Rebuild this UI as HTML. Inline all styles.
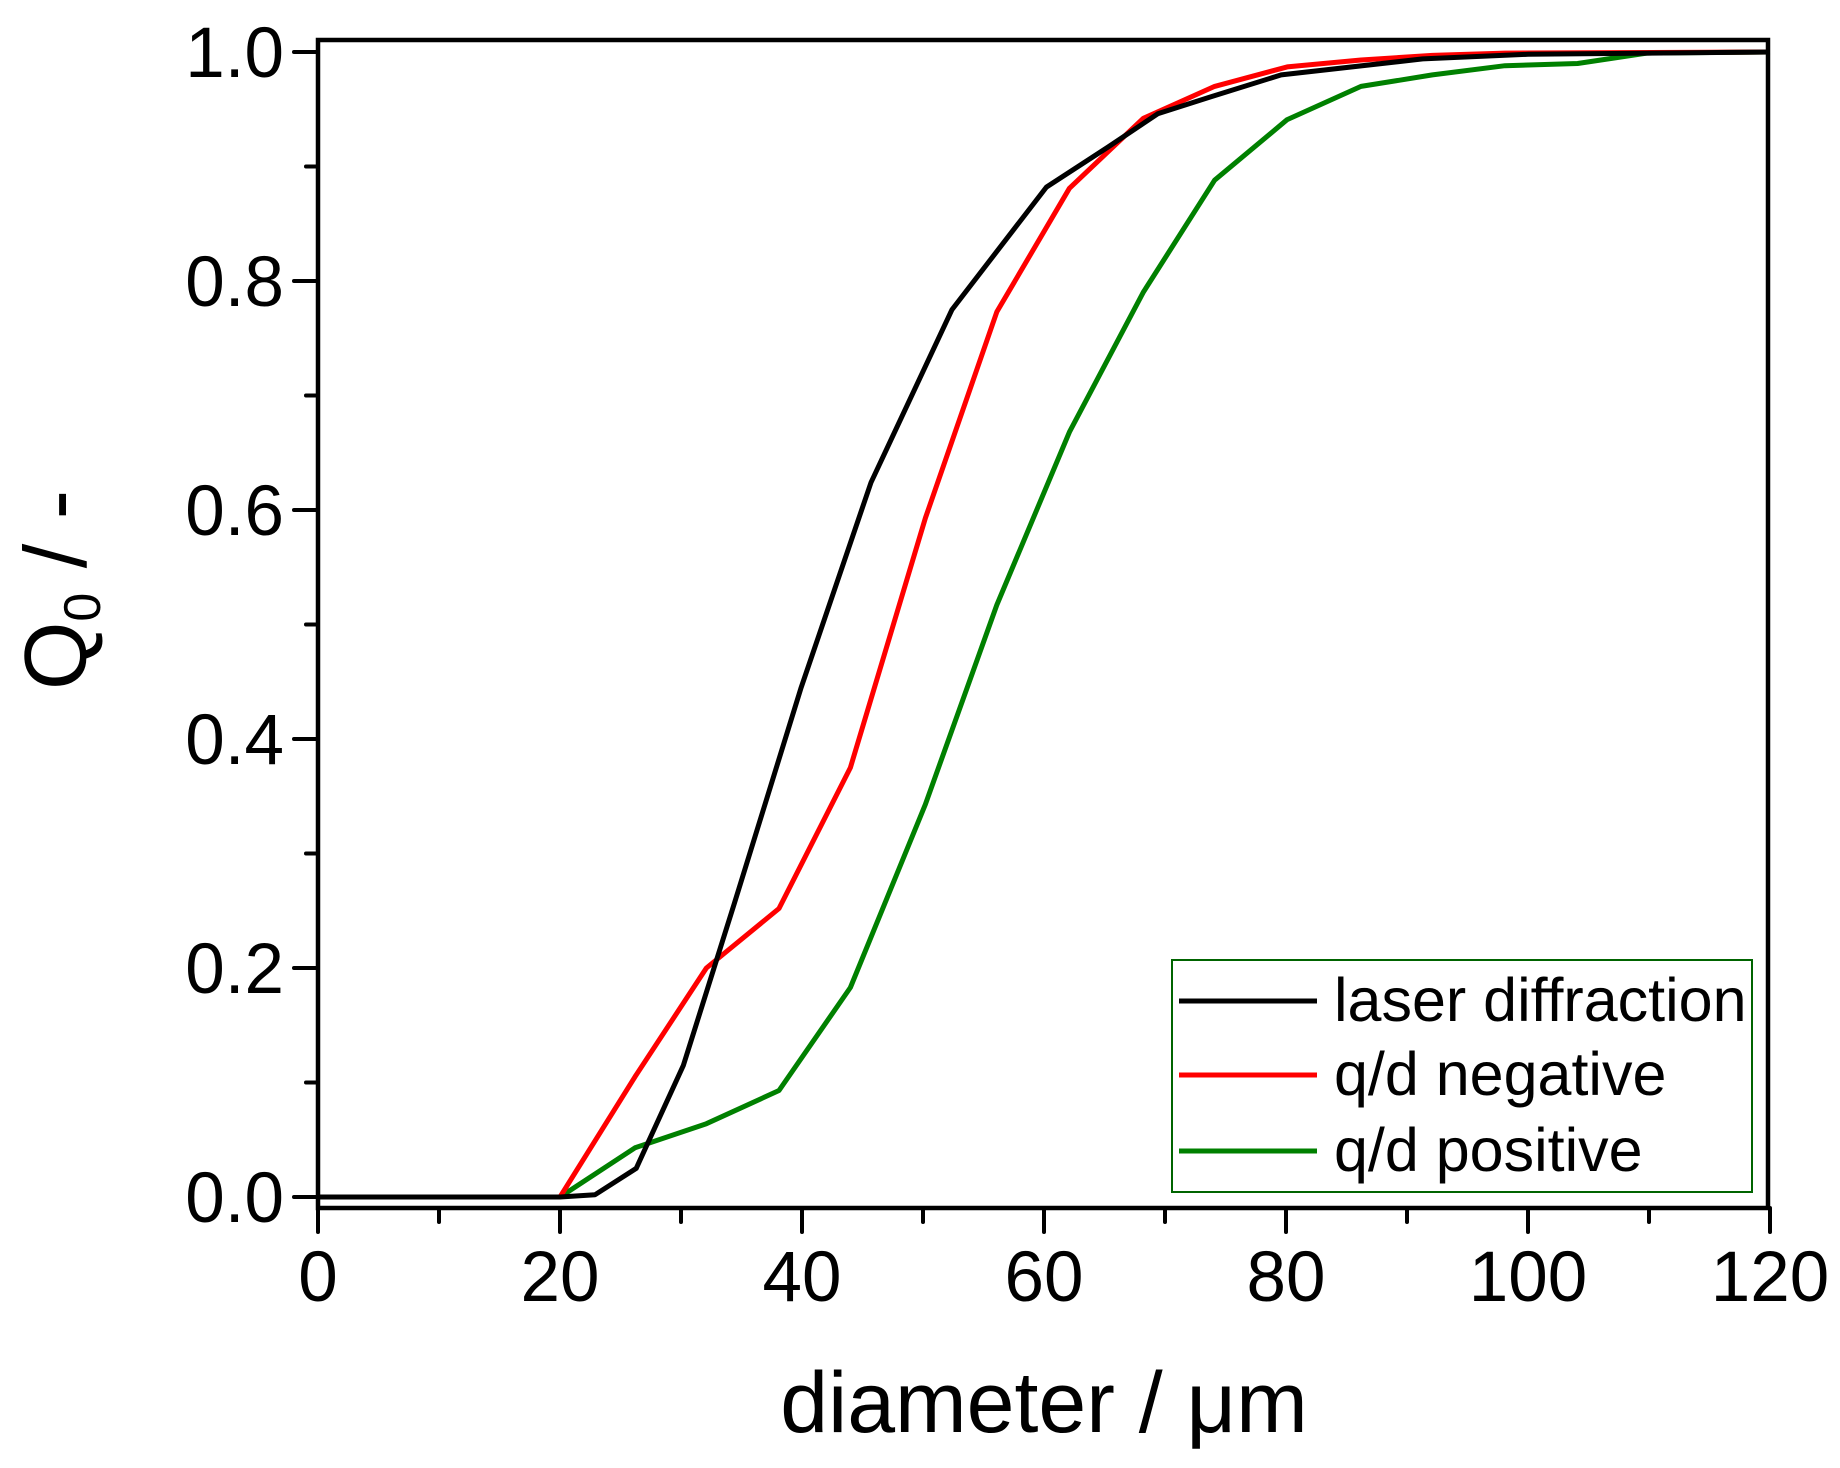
<!DOCTYPE html>
<html><head><meta charset="utf-8"><style>html,body{margin:0;padding:0;background:#fff}svg{display:block}</style></head>
<body>
<svg id="s" width="1840" height="1468" xmlns="http://www.w3.org/2000/svg" font-family="Liberation Sans, sans-serif">
<rect width="1840" height="1468" fill="#fff"/>
<g id="g"></g>
<rect x="1172" y="960" width="580" height="232" fill="#fff" stroke="#006400" stroke-width="2"/>
<line x1="1179" y1="1001" x2="1317" y2="1001" stroke="#000" stroke-width="5"/>
<line x1="1179" y1="1075" x2="1317" y2="1075" stroke="#f00" stroke-width="5"/>
<line x1="1179" y1="1151" x2="1317" y2="1151" stroke="#008000" stroke-width="5"/>
<text x="1334" y="1021" font-size="61">laser diffraction</text>
<text x="1334" y="1095" font-size="61">q/d negative</text>
<text x="1334" y="1171" font-size="61">q/d positive</text>
<text x="1044" y="1432" font-size="86" text-anchor="middle">diameter / μm</text>
<text transform="translate(86,590) rotate(-90)" font-size="88" text-anchor="middle">Q<tspan font-size="52" dy="14">0</tspan><tspan dy="-14"> / -</tspan></text>
</svg>
<script>
var X=x=>318+12.1*x, Y=y=>1197-1145*y;
var g=document.getElementById('g'),h='';
function pl(d,c){h+='<polyline fill="none" stroke="'+c+'" stroke-width="5" stroke-linejoin="round" points="'+d.map(p=>X(p[0]).toFixed(1)+','+Y(p[1]).toFixed(1)).join(' ')+'"/>';}
var blk=[[0,0],[20,0],[22.9,0.002],[26.3,0.025],[30.2,0.115],[34.4,0.256],[39.9,0.444],[45.7,0.624],[52.4,0.775],[60.2,0.882],[65.3,0.917],[69.4,0.946],[73.8,0.961],[79.6,0.98],[91.3,0.994],[100,0.998],[120,1]];
var red=[[20,0],[26.2,0.105],[32.1,0.2],[38.1,0.252],[44,0.375],[50.2,0.593],[56.1,0.773],[62.1,0.881],[68.2,0.942],[74.1,0.97],[80.1,0.987],[86.2,0.993],[92.1,0.997],[98.1,0.999],[120,1]];
var grn=[[20,0],[26.2,0.043],[32.1,0.064],[38.1,0.093],[44,0.183],[50.2,0.343],[56.1,0.517],[62.1,0.668],[68.2,0.79],[74.1,0.888],[80.1,0.941],[86.2,0.97],[92.1,0.98],[98.1,0.988],[104.1,0.99],[109.8,0.999],[120,1]];
pl(grn,'#008000');pl(red,'#f00');pl(blk,'#000');
h+='<rect x="318" y="40" width="1450" height="1168" fill="none" stroke="#000" stroke-width="4.5"/>';
for(var i=0;i<=12;i++){var x=X(i*10),L=i%2?14:24;h+='<line x1="'+x+'" y1="1208" x2="'+x+'" y2="'+(1208+L)+'" stroke="#000" stroke-width="4" stroke-linecap="round"/>';
if(i%2==0)h+='<text x="'+x+'" y="1301" font-size="71" text-anchor="middle">'+(i*10)+'</text>';}
for(var j=0;j<=10;j++){var y=Y(j/10),L=j%2?12:24;h+='<line x1="'+(318-L)+'" y1="'+y+'" x2="318" y2="'+y+'" stroke="#000" stroke-width="4" stroke-linecap="round"/>';
if(j%2==0)h+='<text x="284" y="'+(y+25)+'" font-size="71" text-anchor="end">'+(j/10).toFixed(1)+'</text>';}
g.innerHTML=h;
</script>
</body></html>
